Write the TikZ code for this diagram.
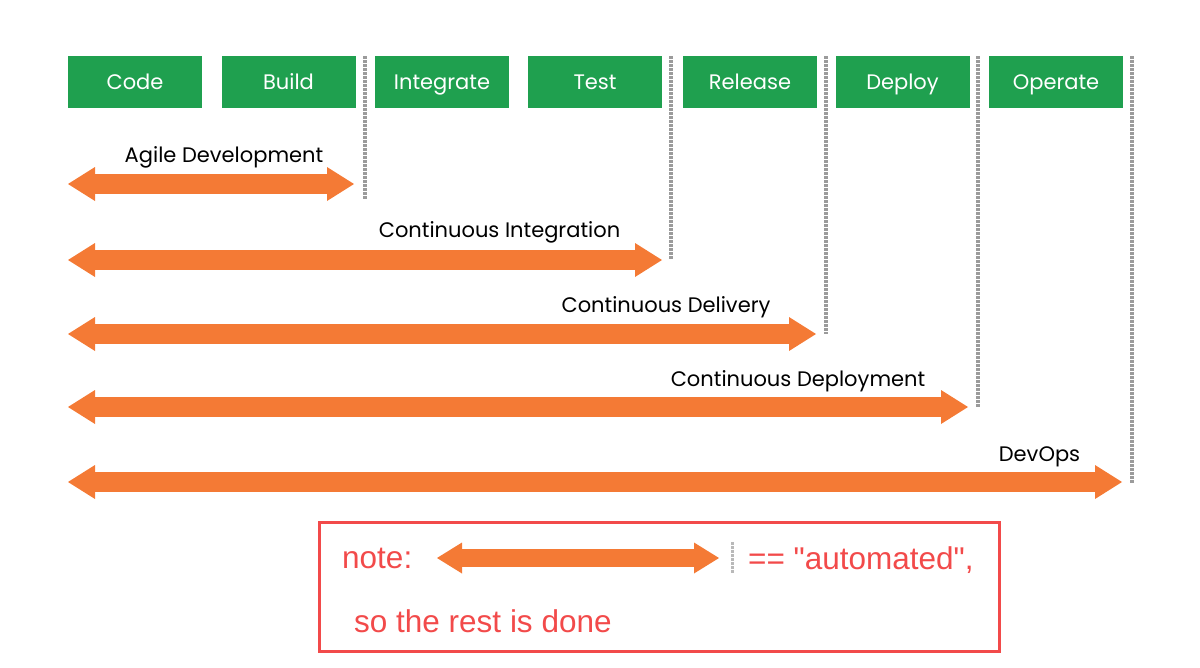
\documentclass[tikz,border=0pt]{standalone}
\usepackage{fontspec}
\setmainfont{Poppins}
\newfontfamily\notefont{Liberation Sans}
\usetikzlibrary{arrows.meta}
\definecolor{stagegreen}{HTML}{1FA04F}
\definecolor{barorange}{HTML}{F47A35}
\definecolor{notered}{HTML}{F24A4A}
\definecolor{dashgray}{HTML}{9B9B9B}
\tikzset{
  stage/.style={fill=stagegreen, text=white, minimum width=134pt, minimum height=52pt, inner sep=0pt, text height=17pt, text depth=3pt, font=\fontsize{21}{21}\selectfont},
  bar/.style={draw=barorange, line width=20pt, >={Triangle[length=27pt,width=34pt,line width=0pt]}, <->},
  smallbar/.style={draw=barorange, line width=18pt, >={Triangle[length=25pt,width=31pt,line width=0pt]}, <->},
  divider/.style={draw=dashgray, line width=4pt, dash pattern=on 2.5pt off 1.5pt},
  smalldivider/.style={draw=dashgray!70, line width=3pt, dash pattern=on 2.5pt off 1.5pt},
  phase/.style={anchor=base, inner sep=0pt, font=\fontsize{21}{21}\selectfont},
  notebox/.style={draw=notered, line width=3pt},
  notetext/.style={anchor=base west, inner sep=0pt, text=notered, font=\notefont\fontsize{31.5}{31.5}\selectfont}
}
\begin{document}
\begin{tikzpicture}[x=1pt,y=-1pt]
    \useasboundingbox (0,0) rectangle (1200,667);

    %STAGES
    \node[stage] (code) at (135,82) {Code};
    \node[stage] (build) at (288.5,82) {Build};
    \node[stage] (integrate) at (442,82) {Integrate};
    \node[stage] (test) at (595,82) {Test};
    \node[stage] (release) at (750,82) {Release};
    \node[stage] (deploy) at (902.5,82) {Deploy};
    \node[stage] (operate) at (1056,82) {Operate};

    %DIVIDERS
    \coordinate (agiletop) at (365,56);
    \coordinate (agilebot) at (365,200);
    \coordinate (citop) at (671,56);
    \coordinate (cibot) at (671,259);
    \coordinate (cdtop) at (826,56);
    \coordinate (cdbot) at (826,334);
    \coordinate (deptop) at (978,56);
    \coordinate (depbot) at (978,407);
    \coordinate (opstop) at (1132,56);
    \coordinate (opsbot) at (1132,483);
    \draw[divider] (agiletop) -- (agilebot);
    \draw[divider] (citop) -- (cibot);
    \draw[divider] (cdtop) -- (cdbot);
    \draw[divider] (deptop) -- (depbot);
    \draw[divider] (opstop) -- (opsbot);

    %AGILE DEVELOPMENT
    \coordinate (agilefrom) at (68,184);
    \coordinate (agileto) at (354,184);
    \draw[bar] (agilefrom) -- (agileto);
    \node[phase] (agile) at (224,162) {Agile Development};

    %CONTINUOUS INTEGRATION
    \coordinate (cifrom) at (68,260);
    \coordinate (cito) at (662,260);
    \draw[bar] (cifrom) -- (cito);
    \node[phase] (ci) at (499.5,237) {Continuous Integration};

    %CONTINUOUS DELIVERY
    \coordinate (cdfrom) at (68,334);
    \coordinate (cdto) at (816,334);
    \draw[bar] (cdfrom) -- (cdto);
    \node[phase] (cd) at (666,312) {Continuous Delivery};

    %CONTINUOUS DEPLOYMENT
    \coordinate (depfrom) at (68,407);
    \coordinate (depto) at (968,407);
    \draw[bar] (depfrom) -- (depto);
    \node[phase] (dep) at (798,386) {Continuous Deployment};

    %DEVOPS
    \coordinate (opsfrom) at (68,482);
    \coordinate (opsto) at (1122,482);
    \draw[bar] (opsfrom) -- (opsto);
    \node[phase] (ops) at (1039.5,461) {DevOps};

    %NOTE
    \draw[notebox] (319,522) rectangle (999,651);
    \node[notetext] (note) at (342,568) {note:};
    \coordinate (notefrom) at (437,558);
    \coordinate (noteto) at (719,558);
    \draw[smallbar] (notefrom) -- (noteto);
    \coordinate (notetop) at (732,542);
    \coordinate (notebot) at (732,573);
    \draw[smalldivider] (notetop) -- (notebot);
    \node[notetext] (auto) at (748,569) {== "automated",};
    \node[notetext] (rest) at (354,632) {so the rest is done};

 \end{tikzpicture}
\end{document}
